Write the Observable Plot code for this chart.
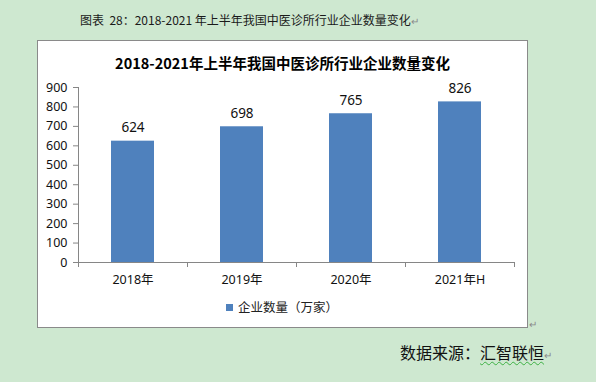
<!DOCTYPE html>
<html><head><meta charset="utf-8">
<script src="https://cdn.jsdelivr.net/npm/d3@7"></script>
<script src="https://cdn.jsdelivr.net/npm/@observablehq/plot@0.6"></script>
<style>
body{margin:0;width:596px;height:382px;background:#cee8d0;position:relative;overflow:hidden;font-family:"Noto Sans CJK SC","Noto Sans",sans-serif;color:#111}
#header{position:absolute;left:80px;top:11px;font-size:12px;line-height:18px;white-space:pre;color:#1a1a1a}
#box{position:absolute;left:37px;top:40px;width:489px;height:286px;background:#fff;border:1px solid #8a8a8a}
#title{position:absolute;left:0;top:12px;width:489px;text-align:center;font-weight:bold;font-size:14.5px;line-height:20px;white-space:nowrap;color:#000}
#chart{position:absolute;left:0;top:0}
#legend{position:absolute;left:188px;top:257px;font-size:12.5px;line-height:18px;white-space:nowrap;color:#222}
#legend .sw{display:inline-block;width:7px;height:7px;background:#4f81bd;margin-right:5px;vertical-align:1px}
.ret{color:#8a8a8a;font-size:10px}
#ret2{position:absolute;left:529px;top:316px;color:#8a8a8a;font-size:10px}
#caption{position:absolute;left:400px;top:341px;font-size:16px;line-height:22px;white-space:nowrap;color:#111}
.wavy{text-decoration:underline wavy #3cb043;text-decoration-thickness:1px;text-underline-offset:2px}
</style></head><body>
<div id="header">图表  28：2018-2021 年上半年我国中医诊所行业企业数量变化<span class="ret">↵</span></div>
<div id="box">
  <div id="chart"></div>
  <div id="title">2018-2021年上半年我国中医诊所行业企业数量变化</div>
  <div id="legend"><span class="sw"></span>企业数量（万家）</div>
</div>
<div id="ret2">↵</div>
<div id="caption">数据来源：<span class="wavy">汇智联恒</span><span class="ret">↵</span></div>
<script>
const categories = ["2018年", "2019年", "2020年", "2021年H"];
const counts = [624, 698, 765, 826];
const yTicks = [0, 100, 200, 300, 400, 500, 600, 700, 800, 900];

const data = categories.map((c, i) => ({i, category: c, value: counts[i]}));
const boundaries = d3.range(categories.length + 1);
const axisColor = "#868686";

const chart = Plot.plot({
  width: 489,
  height: 286,
  marginLeft: 40,
  marginRight: 13,
  marginTop: 46,
  marginBottom: 65,
  style: {fontFamily: "'Noto Sans','Noto Sans CJK SC',sans-serif", fontSize: "12px", background: "transparent", color: "#111"},
  x: {type: "linear", domain: [0, categories.length], axis: null, label: null},
  y: {domain: [0, 900], axis: null, label: null},
  marks: [
    Plot.rectY(data, {x1: d => d.i, x2: d => d.i + 1, y: "value", fill: "#4f81bd", insetLeft: 33, insetRight: 33}),
    Plot.axisY({ticks: yTicks, tickSize: 5, tickPadding: 6, stroke: axisColor, fill: "#111", fontSize: 12.5, label: null}),
    Plot.ruleX([0], {stroke: axisColor}),
    Plot.ruleY([0], {stroke: axisColor}),
    Plot.axisX({ticks: boundaries, tickSize: 5, tickFormat: () => "", stroke: axisColor, label: null}),
    Plot.text(data, {x: d => d.i + 0.5, y: 0, text: "category", dy: 17, fontSize: 12.5, fill: "#111", fontFamily: "'Noto Sans','Noto Sans CJK SC',sans-serif"}),
    Plot.text(data, {x: d => d.i + 0.5, y: "value", text: d => String(d.value), dy: -13, fontSize: 13.5, fill: "#111"})
  ]
});
document.getElementById("chart").appendChild(chart);
</script>
</body></html>
